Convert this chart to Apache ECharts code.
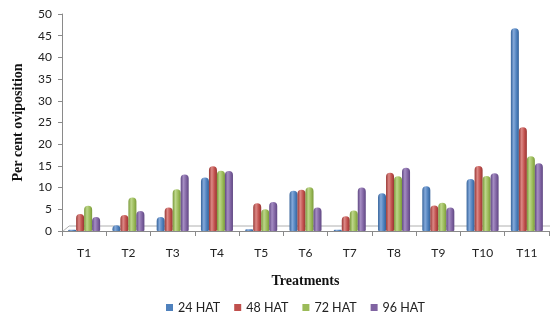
<!DOCTYPE html>
<html>
<head>
<meta charset="utf-8">
<script src="https://cdn.jsdelivr.net/npm/echarts@6/dist/echarts.min.js"></script>
<style>
  html, body { margin: 0; padding: 0; background: #fff; }
  #chart { width: 550px; height: 320px; }
</style>
</head>
<body>
<div id="chart"></div>
<script>
// Treatments on the category axis
const treatments = ['T1', 'T2', 'T3', 'T4', 'T5', 'T6', 'T7', 'T8', 'T9', 'T10', 'T11'];

// Per cent oviposition at each observation time
const hat24 = [0.3, 1.3, 3.2, 12.3, 0.4, 9.3, 0.3, 8.7, 10.3, 12.0, 46.7];
const hat48 = [3.9, 3.7, 5.4, 14.9, 6.4, 9.5, 3.4, 13.4, 5.9, 15.0, 23.9];
const hat72 = [5.8, 7.7, 9.6, 13.9, 5.0, 10.1, 4.7, 12.6, 6.5, 12.7, 17.2];
const hat96 = [3.2, 4.6, 13.0, 13.8, 6.7, 5.4, 10.0, 14.6, 5.4, 13.3, 15.6];

const seriesNames = ['24 HAT', '48 HAT', '72 HAT', '96 HAT'];
const yTicks = [0, 5, 10, 15, 20, 25, 30, 35, 40, 45, 50];

// Office-style palette: base, highlight, shadow
const palette = [
  ['#4F81BD', '#84A9DA', '#34629A'],
  ['#C0504D', '#DC8885', '#983633'],
  ['#9BBB59', '#BDD68A', '#7A9A3A'],
  ['#8064A2', '#A58DC3', '#5F4782']
];

function cylinder(c) {
  return new echarts.graphic.LinearGradient(0, 0, 1, 0, [
    { offset: 0, color: c[2] },
    { offset: 0.35, color: c[1] },
    { offset: 0.7, color: c[0] },
    { offset: 1, color: c[2] }
  ]);
}

const values = [hat24, hat48, hat72, hat96];

const chart = echarts.init(document.getElementById('chart'));

chart.setOption({
  animation: false,
  color: palette.map(p => p[0]),
  grid: { left: 62, right: 1, top: 14, bottom: 89 },
  legend: {
    data: seriesNames,
    left: 161,
    top: 296,
    icon: 'rect',
    itemWidth: 7,
    itemHeight: 7,
    itemGap: 14,
    textStyle: { fontFamily: 'Lato', fontSize: 12.5, color: '#222' }
  },
  xAxis: {
    type: 'category',
    data: treatments,
    name: 'Treatments',
    nameLocation: 'middle',
    nameGap: 43,
    nameTextStyle: { fontFamily: 'Liberation Serif', fontWeight: 'bold', fontSize: 14, color: '#111' },
    axisLine: { lineStyle: { color: '#8a8a8a', width: 1 } },
    axisTick: { show: true, length: 5, lineStyle: { color: '#8a8a8a' } },
    axisLabel: { fontFamily: 'Lato', fontSize: 12, color: '#222', margin: 16 }
  },
  yAxis: {
    type: 'value',
    min: yTicks[0],
    max: yTicks[yTicks.length - 1],
    interval: 5,
    name: 'Per cent oviposition',
    nameLocation: 'middle',
    nameGap: 37,
    nameTextStyle: { fontFamily: 'Liberation Serif', fontWeight: 'bold', fontSize: 14, color: '#111' },
    axisLine: { show: true, lineStyle: { color: '#8a8a8a', width: 1 } },
    axisTick: { show: true, length: 4, lineStyle: { color: '#8a8a8a' } },
    axisLabel: { fontFamily: 'Lato', fontSize: 12, color: '#222', margin: 10 },
    splitLine: { show: false }
  },
  series: seriesNames.map((name, i) => ({
    name: name,
    type: 'bar',
    // shaded columns per item; the series keeps a flat colour for its legend swatch
    data: values[i].map(v => ({ value: v, itemStyle: { color: cylinder(palette[i]) } })),
    barWidth: 8,
    barGap: '0%',
    itemStyle: {
      color: palette[i][0],
      borderRadius: [4, 4, 1, 1]
    }
  }))
});

// Thin perspective floor drawn behind the columns
function drawFloor() {
  const y0 = chart.convertToPixel({ yAxisIndex: 0 }, 0);
  const xl = chart.convertToPixel({ xAxisIndex: 0 }, 0) - 22;
  const xr = 550;
  chart.setOption({
    graphic: [{
      type: 'polyline',
      silent: true,
      z: -1,
      shape: { points: [[xl + 1, y0], [xl + 7, y0 - 5], [xr, y0 - 5]] },
      style: { stroke: '#b0b0b0', lineWidth: 1, fill: null }
    }]
  });
}
drawFloor();
</script>
</body>
</html>
